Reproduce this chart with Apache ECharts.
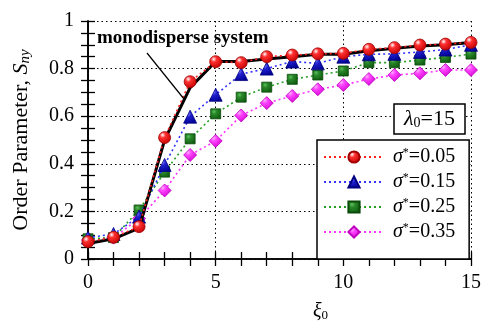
<!DOCTYPE html>
<html>
<head>
<meta charset="utf-8">
<script src="https://cdn.jsdelivr.net/npm/echarts@6/dist/echarts.min.js"></script>
<style>html,body{margin:0;padding:0;background:#fff}#c{width:484px;height:323px}</style>
</head>
<body>
<div id="c"></div>
<script>
const xi = [0,1,2,3,4,5,6,7,8,9,10,11,12,13,14,15];
const mono   = [0.065,0.085,0.13,0.50,0.72,0.83,0.83,0.84,0.85,0.86,0.86,0.875,0.885,0.895,0.90,0.91];
const s005   = [0.073,0.091,0.136,0.51,0.745,0.829,0.825,0.85,0.857,0.862,0.864,0.881,0.888,0.899,0.903,0.91];
const s015   = [0.09,0.105,0.178,0.395,0.598,0.69,0.777,0.80,0.83,0.822,0.85,0.86,0.862,0.87,0.88,0.90];
const s025   = [0.085,0.09,0.206,0.365,0.505,0.61,0.68,0.722,0.755,0.773,0.79,0.825,0.825,0.836,0.847,0.861];
const s035   = [0.08,0.09,0.17,0.288,0.437,0.496,0.603,0.655,0.685,0.713,0.731,0.756,0.773,0.78,0.794,0.794];
const sigmaLabels = ['0.05','0.15','0.25','0.35'];
const xTicks = [0,5,10,15];
const yTicks = [0,0.2,0.4,0.6,0.8,1];

const FONT = 'Liberation Serif';
const pair = a => xi.map((x,i)=>[x,a[i]]);
const names = sigmaLabels.map(s=>'σ*=' + s);

const chart = echarts.init(document.getElementById('c'));
const axisCommon = {
  min: 0,
  axisLine: {show: true, lineStyle: {color: '#000', width: 1.6}},
  axisTick: {show: true, inside: true, length: 7, lineStyle: {color: '#000', width: 1.3}},
  minorTick: {show: true, length: 7, lineStyle: {color: '#000', width: 1.3}},
  splitLine: {show: false},
  axisLabel: {show: false}
};
const grid = {left: 88, right: 13, top: 21, bottom: 64};

function line(name, data, color, symbol, size, symColor, border, z) {
  return {
    name, type: 'line', data: pair(data), z,
    symbol, symbolSize: size,
    lineStyle: {color, width: 1.6, type: [2, 3]},
    itemStyle: {color: symColor, borderColor: border, borderWidth: 0.8},
    emphasis: {disabled: true},
    animation: false
  };
}
const rg = (c1,c2,c3)=>new echarts.graphic.RadialGradient(0.35,0.3,0.75,[{offset:0,color:c1},{offset:0.3,color:c2},{offset:1,color:c3}]);

chart.setOption({
  animation: false,
  grid,
  xAxis: [
    Object.assign({}, axisCommon, {
      type: 'value', max: 15, interval: 5, position: 'bottom',
      minorTick: Object.assign({}, axisCommon.minorTick, {splitNumber: 5}),
      axisLabel: {show: true, color: '#000', fontFamily: FONT, fontSize: 20, margin: 14,
        formatter: v => xTicks.includes(v) ? String(v) : ''},
      splitLine: {show: true, lineStyle: {color: '#000', width: 1, type: [1.5, 3]}}
    }),
    Object.assign({}, axisCommon, {
      type: 'value', max: 15, interval: 5, position: 'top',
      minorTick: Object.assign({}, axisCommon.minorTick, {splitNumber: 5})
    })
  ],
  yAxis: [
    Object.assign({}, axisCommon, {
      type: 'value', max: 1, interval: 0.2, position: 'left',
      minorTick: Object.assign({}, axisCommon.minorTick, {splitNumber: 4}),
      axisLabel: {show: true, color: '#000', fontFamily: FONT, fontSize: 20, margin: 14,
        formatter: v => { const t = yTicks.find(y=>Math.abs(y-v)<1e-9); return t===undefined ? '' : String(t); }},
      splitLine: {show: true, lineStyle: {color: '#000', width: 1, type: [1.5, 3]}},
      name: '{n|Order Parameter, }{i|S}{sub|ny}',
      nameLocation: 'middle', nameRotate: 90, nameGap: 55,
      nameTextStyle: {color: '#000', fontFamily: FONT, fontSize: 22,
        rich: {n: {fontFamily: FONT, fontSize: 22, color: '#000'},
               i: {fontFamily: FONT, fontSize: 22, fontStyle: 'italic', color: '#000'},
               sub: {fontFamily: FONT, fontSize: 15, fontStyle: 'italic', color: '#000', padding: [8,0,0,0]}}}
    }),
    Object.assign({}, axisCommon, {
      type: 'value', max: 1, interval: 0.2, position: 'right',
      minorTick: Object.assign({}, axisCommon.minorTick, {splitNumber: 4})
    })
  ],
  title: {
    text: '{i|λ}{sub|0}{n|=15}',
    left: 394, top: 104,
    padding: [4, 10, 4, 10],
    borderColor: '#000', borderWidth: 1.5, backgroundColor: '#fff',
    textStyle: {fontFamily: FONT, fontSize: 22, fontWeight: 'normal', color: '#000',
      rich: {i: {fontFamily: FONT, fontSize: 22, fontStyle: 'italic', color: '#000'},
             sub: {fontFamily: FONT, fontSize: 14, color: '#000', padding: [8,0,0,0]},
             n: {fontFamily: FONT, fontSize: 22, color: '#000'}}},
    z: 10
  },
  legend: {
    data: names,
    orient: 'vertical',
    left: 317, top: 140,
    padding: [7, 14, 17, 6],
    itemGap: 5, itemWidth: 60, itemHeight: 14,
    borderColor: '#000', borderWidth: 1.5, backgroundColor: '#fff',
    formatter: n => '{i|σ}{s|*}{n|' + n.slice(2) + '}',
    textStyle: {fontFamily: FONT, fontSize: 20, color: '#000', padding: [0,0,0,4], lineHeight: 20,
      rich: {i: {fontFamily: FONT, fontSize: 20, fontStyle: 'italic', color: '#000', lineHeight: 20},
             s: {fontFamily: FONT, fontSize: 12, color: '#000', lineHeight: 20, verticalAlign: 'top'},
             n: {fontFamily: FONT, fontSize: 20, color: '#000', lineHeight: 20}}},
    selectedMode: false,
    z: 10
  },
  graphic: [
    {type: 'text', left: 97, top: 29, z: 10,
      style: {text: 'monodisperse system', font: 'bold 19px "Liberation Serif"', fill: '#000'}},
    {type: 'line', z: 10, shape: {x1: 147, y1: 53, x2: 184, y2: 99}, style: {stroke: '#000', lineWidth: 1.2}},
    {type: 'text', left: 313, top: 302, z: 10,
      style: {rich: {i: {font: 'italic 20px "Liberation Serif"', fill: '#000'},
                     sub: {font: '13px "Liberation Serif"', fill: '#000', padding: [8,0,0,0]}},
              text: '{i|ξ}{sub|0}'}}
  ],
  series: [
    line(names[3], s035, '#ff33ff', 'diamond', 13, rg('#ffb0ff','#ff44ff','#d000d0'), '#c000c0', 2),
    line(names[2], s025, '#22a022', 'rect', 10, rg('#60c060','#2a8a2a','#0e5a0e'), '#0a4a0a', 3),
    line(names[1], s015, '#3333ff', 'triangle', 13, rg('#8080ff','#2020d0','#000090'), '#000080', 4),
    {name: 'monodisperse', type: 'line', data: pair(mono), z: 5, symbol: 'none',
      lineStyle: {color: '#000', width: 3}, emphasis: {disabled: true}},
    line(names[0], s005, '#ff2020', 'circle', 12, rg('#ffffff','#ff3030','#c00000'), '#a00000', 6)
  ]
});
</script>
</body>
</html>
